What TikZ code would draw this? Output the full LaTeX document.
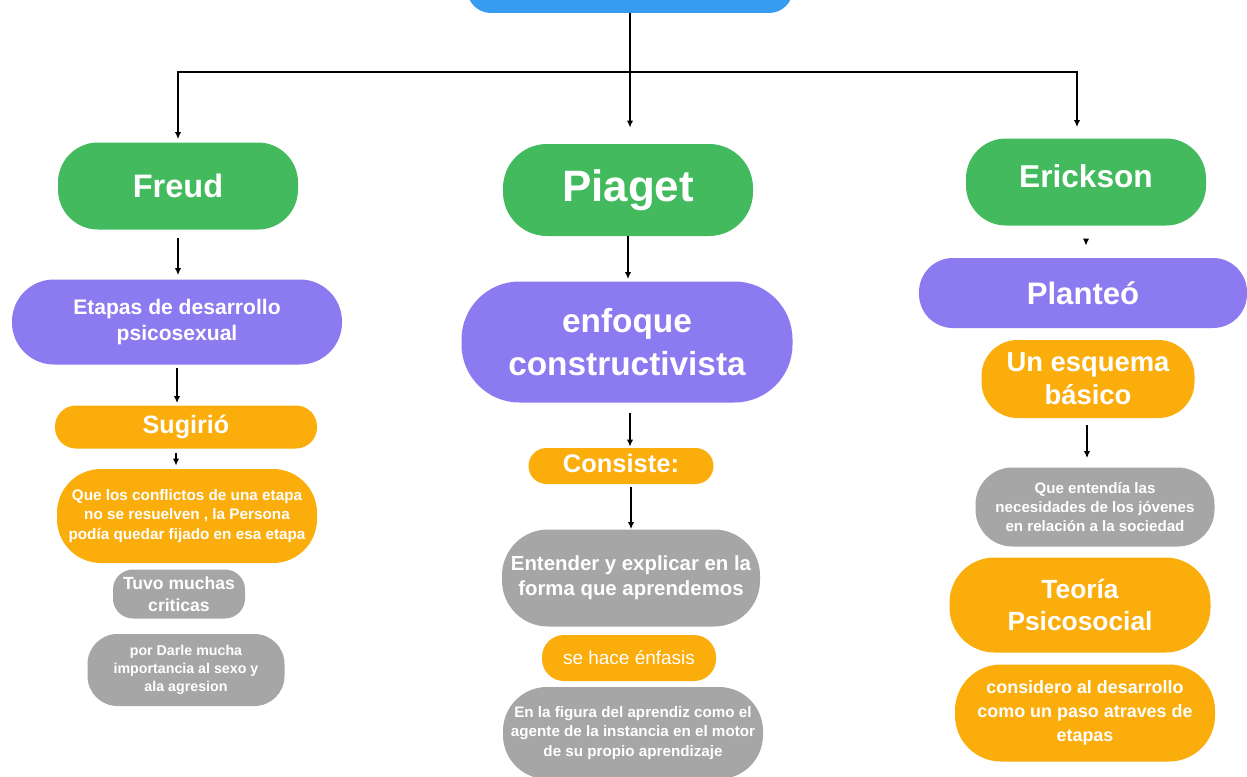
\documentclass[tikz,border=0pt]{standalone}
\usepackage{fontspec}
\setmainfont{Liberation Sans}
\usetikzlibrary{arrows.meta,calc}
\definecolor{cgreen}{RGB}{67,186,94}
\definecolor{cpurple}{RGB}{139,122,240}
\definecolor{corange}{RGB}{251,173,11}
\definecolor{cgray}{RGB}{166,166,166}
\definecolor{cblue}{RGB}{55,155,240}
\begin{document}
\begin{tikzpicture}[x=0.02cm,y=-0.02cm,
  pill/.style n args={3}{draw=none, inner sep=0pt, align=center, text=white,
    minimum width=#1*0.02cm, minimum height=#2*0.02cm, rounded corners=#3*0.02cm},
  fs/.style 2 args={font=\fontsize{#1}{#2}\selectfont\bfseries},
  fr/.style 2 args={font=\fontsize{#1}{#2}\selectfont},
  arr/.style={draw=black, line width=0.9pt, -{Latex[length=4pt,width=3.6pt]}},
  ln/.style={draw=black, line width=0.9pt}]
\useasboundingbox (0,0) rectangle (1247,777);
\clip (0,0) rectangle (1247,777);
\fill[white] (0,0) rectangle (1247,777);

% top
\node[pill={326}{60}{24}, fill=cblue] (top) at (630,-17) {};

% column 1
\node[pill={240}{87}{40}, fill=cgreen, fs={18.5}{22}] (freud) at (178,186) {Freud};
\node[pill={330}{85}{42}, fill=cpurple, fs={12}{15.3}] (etapas) at (177,322) {Etapas de desarrollo\\psicosexual};
\node[pill={262}{43}{21}, fill=corange, fs={14.3}{17}] (sug) at (186,427) {Sugirió};
\node[pill={260}{94}{44}, fill=corange, fs={8.7}{11}] (que) at (187,516) {Que los conflictos de una etapa\\no se resuelven , la Persona\\podía quedar fijado en esa etapa};
\node[pill={132}{49}{20}, fill=cgray, fs={10}{12.5}] (tuvo) at (179,594) {Tuvo muchas\\criticas};
\node[pill={197}{72}{30}, fill=cgray, fs={8.1}{10.2}] (darle) at (186,670) {por Darle mucha\\importancia al sexo y\\ala agresion};

% column 2
\node[pill={250}{92}{44}, fill=cgreen, fs={25}{30}] (piaget) at (628,190) {Piaget};
\node[pill={331}{121}{58}, fill=cpurple, fs={19}{24}] (enfoque) at (627,342) {enfoque\\constructivista};
\node[pill={185}{36}{18}, fill=corange, fs={14.5}{17}] (consiste) at (621,466) {\raisebox{1.5pt}[\height][\depth]{Consiste:}};
\node[pill={258}{97}{46}, fill=cgray, fs={11.6}{14}] (entender) at (631,578) {Entender y explicar en la\\forma que aprendemos};
\node[pill={174}{46}{22}, fill=corange, fr={10.8}{13}] (enfasis) at (629,658) {se hace énfasis};
\node[pill={260}{92}{44}, fill=cgray, fs={8.65}{11}] (figura) at (633,733) {En la figura del aprendiz como el\\agente de la instancia en el motor\\de su propio aprendizaje};

% column 3
\node[pill={240}{87}{40}, fill=cgreen, fs={18}{22}] (erick) at (1086,182) {\raisebox{3.5pt}[\height][\depth]{Erickson}};
\node[pill={328}{70}{34}, fill=cpurple, fs={17.7}{21}] (plant) at (1083,293) {Planteó};
\node[pill={213}{78}{36}, fill=corange, fs={15.6}{18.7}] (esquema) at (1088,379) {Un esquema\\básico};
\node[pill={239}{79}{37}, fill=cgray, fs={8.6}{10.8}] (qent) at (1095,507) {Que entendía las\\necesidades de los jóvenes\\en relación a la sociedad};
\node[pill={261}{95}{45}, fill=corange, fs={15}{18}] (teoria) at (1080,605) {Teoría\\Psicosocial};
\node[pill={260}{97}{46}, fill=corange, fs={10.2}{13.6}] (consid) at (1085,713) {considero al desarrollo\\como un paso atraves de\\etapas};

% connectors from top
\coordinate (j) at (628,72);
\coordinate (ej) at ($(erick.north)+(-9,0)$);
\draw[arr, shorten >=16*0.02cm] (top.south) -- (top.south |- piaget.north);
\draw[ln] (178,72) -- (1077,72);
\draw[arr, shorten >=3*0.02cm] (j) -| (freud.north);
\draw[arr, shorten >=11*0.02cm] (j) -| (ej);

% column arrows
\coordinate (s1) at ($(sug.south)+(-10,0)$);
\coordinate (s2) at ($(enfoque.south)+(3,0)$);
\coordinate (s3) at ($(consiste.south)+(10,0)$);
\coordinate (s4) at ($(esquema.south)+(-1,0)$);
\draw[arr, shorten <=8*0.02cm, shorten >=4*0.02cm] (freud.south) -- (freud.south |- etapas.north);
\draw[arr, shorten <=3*0.02cm, shorten >=2*0.02cm] (etapas.south) -- (etapas.south |- sug.north);
\draw[arr, shorten <=4*0.02cm, shorten >=3*0.02cm] (s1) -- (s1 |- que.north);
\draw[arr, shorten >=2*0.02cm] (piaget.south) -- (piaget.south |- enfoque.north);
\draw[arr, shorten <=10*0.02cm, shorten >=1*0.02cm] (s2) -- (s2 |- consiste.north);
\draw[arr, shorten <=3*0.02cm] (s3) -- (s3 |- entender.north);
\draw[arr, shorten <=14*0.02cm, shorten >=12*0.02cm] (erick.south) -- (erick.south |- plant.north);
\draw[arr, shorten <=7*0.02cm, shorten >=9*0.02cm] (s4) -- (s4 |- qent.north);
\end{tikzpicture}
\end{document}
